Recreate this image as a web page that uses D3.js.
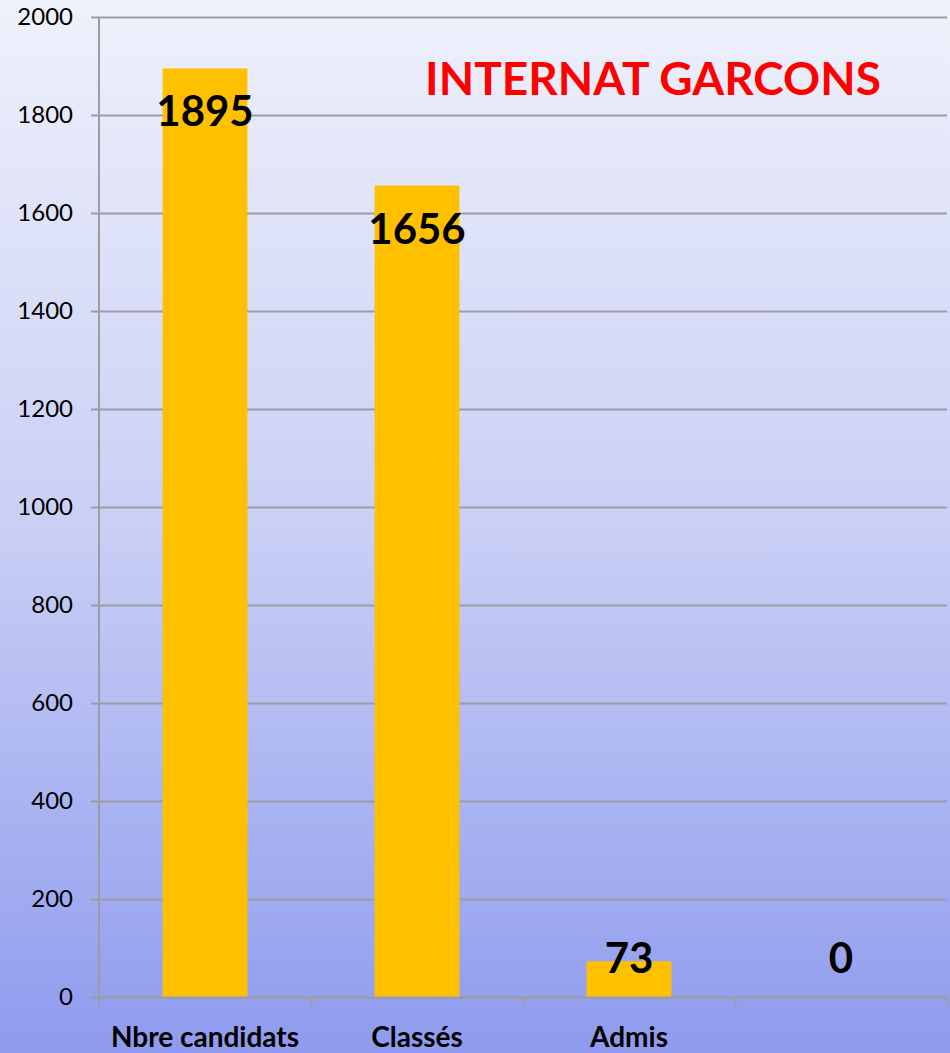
<!DOCTYPE html>
<html>
<head>
<meta charset="utf-8">
<script src="https://cdn.jsdelivr.net/npm/d3@7"></script>
<style>
  html, body { margin: 0; padding: 0; background: #ffffff; }
  svg { display: block; }
</style>
</head>
<body>
<svg id="chart" width="950" height="1053"></svg>
<script>
// Internat garçons: candidates, ranked, admitted
const categories = ["Nbre candidats", "Classés", "Admis", ""];
const values = [1895, 1656, 73, 0];
const yTicks = [0, 200, 400, 600, 800, 1000, 1200, 1400, 1600, 1800, 2000];
const title = "INTERNAT GARCONS";

const W = 950, H = 1053;
const margin = { left: 99, right: 3, top: 17, bottom: 56 };

const svg = d3.select("#chart");

// Soft blue vertical gradient behind the whole chart
const defs = svg.append("defs");
const grad = defs.append("linearGradient")
  .attr("id", "bg").attr("x1", 0).attr("y1", 0).attr("x2", 0).attr("y2", 1);
grad.append("stop").attr("offset", "0%").attr("stop-color", "#eff1fb");
grad.append("stop").attr("offset", "50%").attr("stop-color", "#c9cff5");
grad.append("stop").attr("offset", "100%").attr("stop-color", "#8e9bee");
svg.append("rect").attr("width", W).attr("height", H).attr("fill", "url(#bg)");

const x = d3.scaleBand()
  .domain(categories)
  .range([margin.left, W - margin.right])
  .paddingInner(0.6)
  .paddingOuter(0.3);

const y = d3.scaleLinear()
  .domain([0, 2000])
  .range([H - margin.bottom, margin.top]);

const font = "Lato, 'Open Sans', 'Liberation Sans', sans-serif";
const gridColor = "#9c9ca3";

// Horizontal gridlines with small left tick marks
const yAxis = d3.axisLeft(y)
  .tickValues(yTicks)
  .tickFormat(d3.format("d"))
  .tickSize(-(W - margin.right - margin.left))
  .tickSizeOuter(0)
  .tickPadding(26);

const gy = svg.append("g")
  .attr("transform", `translate(${margin.left},0)`)
  .call(yAxis);
gy.select(".domain").remove();
gy.selectAll(".tick line")
  .attr("x1", -8)
  .attr("stroke", gridColor)
  .attr("stroke-width", 2);
gy.selectAll(".tick text")
  .attr("fill", "#000")
  .style("font-family", font)
  .style("font-size", "24px");

// Vertical axis line
svg.append("line")
  .attr("x1", margin.left).attr("x2", margin.left)
  .attr("y1", y(2000)).attr("y2", y(0) + 9)
  .attr("stroke", gridColor).attr("stroke-width", 2);

// Bars
svg.append("g").selectAll("rect")
  .data(values)
  .join("rect")
  .attr("x", (d, i) => x(categories[i]))
  .attr("width", x.bandwidth())
  .attr("y", d => y(d))
  .attr("height", d => y(0) - y(d))
  .attr("fill", "#ffc000");

// Category axis with ticks between bands
const xLin = d3.scaleLinear()
  .domain([0, categories.length])
  .range([margin.left, W - margin.right]);
const gx = svg.append("g")
  .attr("transform", `translate(0,${y(0)})`)
  .call(d3.axisBottom(xLin).tickValues(d3.range(categories.length + 1)).tickSize(9).tickSizeOuter(0).tickFormat(""));
gx.select(".domain").attr("stroke", gridColor).attr("stroke-width", 2);
gx.selectAll(".tick line").attr("stroke", gridColor).attr("stroke-width", 2);

// Category labels
svg.append("g").selectAll("text")
  .data(categories)
  .join("text")
  .attr("x", d => x(d) + x.bandwidth() / 2)
  .attr("y", y(0) + 50)
  .attr("text-anchor", "middle")
  .attr("fill", "#000")
  .style("font-family", font)
  .style("font-weight", "bold")
  .style("font-size", "28px")
  .text(d => d);

// Value labels near bar tops
svg.append("g").selectAll("text")
  .data(values)
  .join("text")
  .attr("x", (d, i) => x(categories[i]) + x.bandwidth() / 2)
  .attr("y", d => Math.min(y(d) + 58, y(0) - 24))
  .attr("text-anchor", "middle")
  .attr("fill", "#000")
  .style("font-family", font)
  .style("font-weight", "bold")
  .style("font-size", "42px")
  .text(d => d);

// Title
svg.append("text")
  .attr("x", 653)
  .attr("y", 95)
  .attr("text-anchor", "middle")
  .attr("fill", "#ff0000")
  .style("font-family", font)
  .style("font-weight", "bold")
  .style("font-size", "46px")
  .text(title);
</script>
</body>
</html>
